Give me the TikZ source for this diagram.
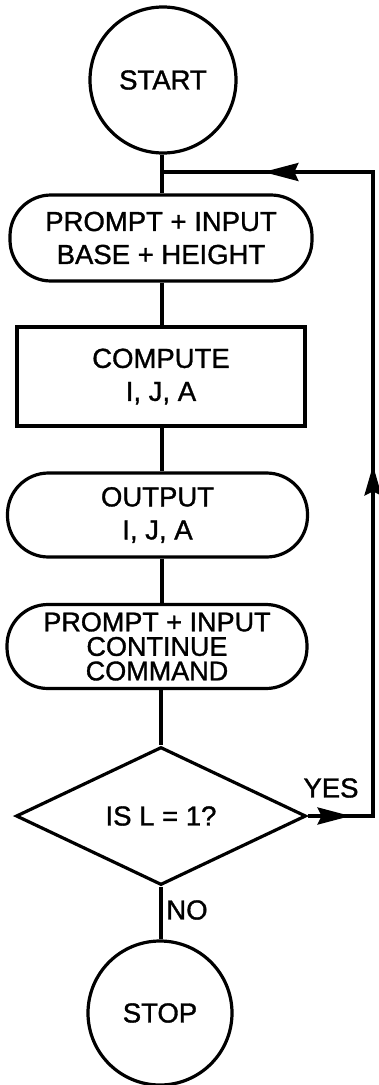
\documentclass[tikz,border=0pt]{standalone}
\usepackage{fontspec}
\setmainfont{Liberation Sans}[FakeBold=1.2]
\usetikzlibrary{shapes.geometric,arrows.meta,decorations.markings}
\begin{document}
\begin{tikzpicture}[x=1pt,y=-1pt,
  every node/.style={font=\fontsize{27.5}{33}\selectfont, inner sep=0pt, align=center},
  ln/.style={line width=3.2pt},
  term/.style={ln, draw, circle, minimum size=146pt},
  stad/.style={ln, draw, rectangle, rounded corners=41pt},
  proc/.style={ln, draw, rectangle},
  dec/.style={ln, draw, diamond, aspect=2.1},
  loopline/.style={ln, line join=miter, postaction={decorate}, decoration={markings,
    mark=at position 43pt with {\arrow{Stealth[length=33pt,width=17pt,inset=4pt]}},
    mark=at position 416pt with {\arrow{Stealth[length=30pt,width=17pt,inset=4pt]}},
    mark=at position 819pt with {\arrow{Stealth[length=35pt,width=18pt,inset=4pt]}}}}
]
\useasboundingbox (0,0) rectangle (378,1085);
\node[term] (start) at (163,80) {START};
\node[stad, minimum width=302pt, minimum height=86pt] (p1) at (161,238) {PROMPT + INPUT\\BASE + HEIGHT};
\node[proc, minimum width=288pt, minimum height=99pt] (comp) at (161,376.5) {COMPUTE\\I, J, A};
\node[stad, minimum width=300pt, minimum height=84pt] (out) at (157.5,515) {OUTPUT\\I, J, A};
\node[stad, minimum width=300pt, minimum height=84pt, font=\fontsize{27}{24.5}\selectfont] (p2) at (157,646.5) {PROMPT + INPUT\\CONTINUE\\COMMAND};
\node[dec, minimum width=290pt, minimum height=138pt] (d) at (161,816) {IS L = 1?};
\node[term, minimum size=144pt] (stop) at (160,1013) {STOP};
\node (yes) at (331,788) {YES};
\node (no) at (187,910) {NO};
\coordinate (j) at (162,172);
\coordinate (c1) at (373,816);
\coordinate (c2) at (373,172);
\draw[ln] (start.south -| j) -- (p1.north -| j);
\draw[ln] (p1.south -| j) -- (comp.north -| j);
\draw[ln] (comp.south -| j) -- (out.north -| j);
\draw[ln] (out.south -| j) -- (p2.north -| j);
\draw[ln] (p2.south -| d) -- (d.north);
\draw[ln] (d.south) -- (stop.north -| d);
\draw[loopline] (d.east) -- (c1) -- (c2) -- (j);
\end{tikzpicture}
\end{document}
